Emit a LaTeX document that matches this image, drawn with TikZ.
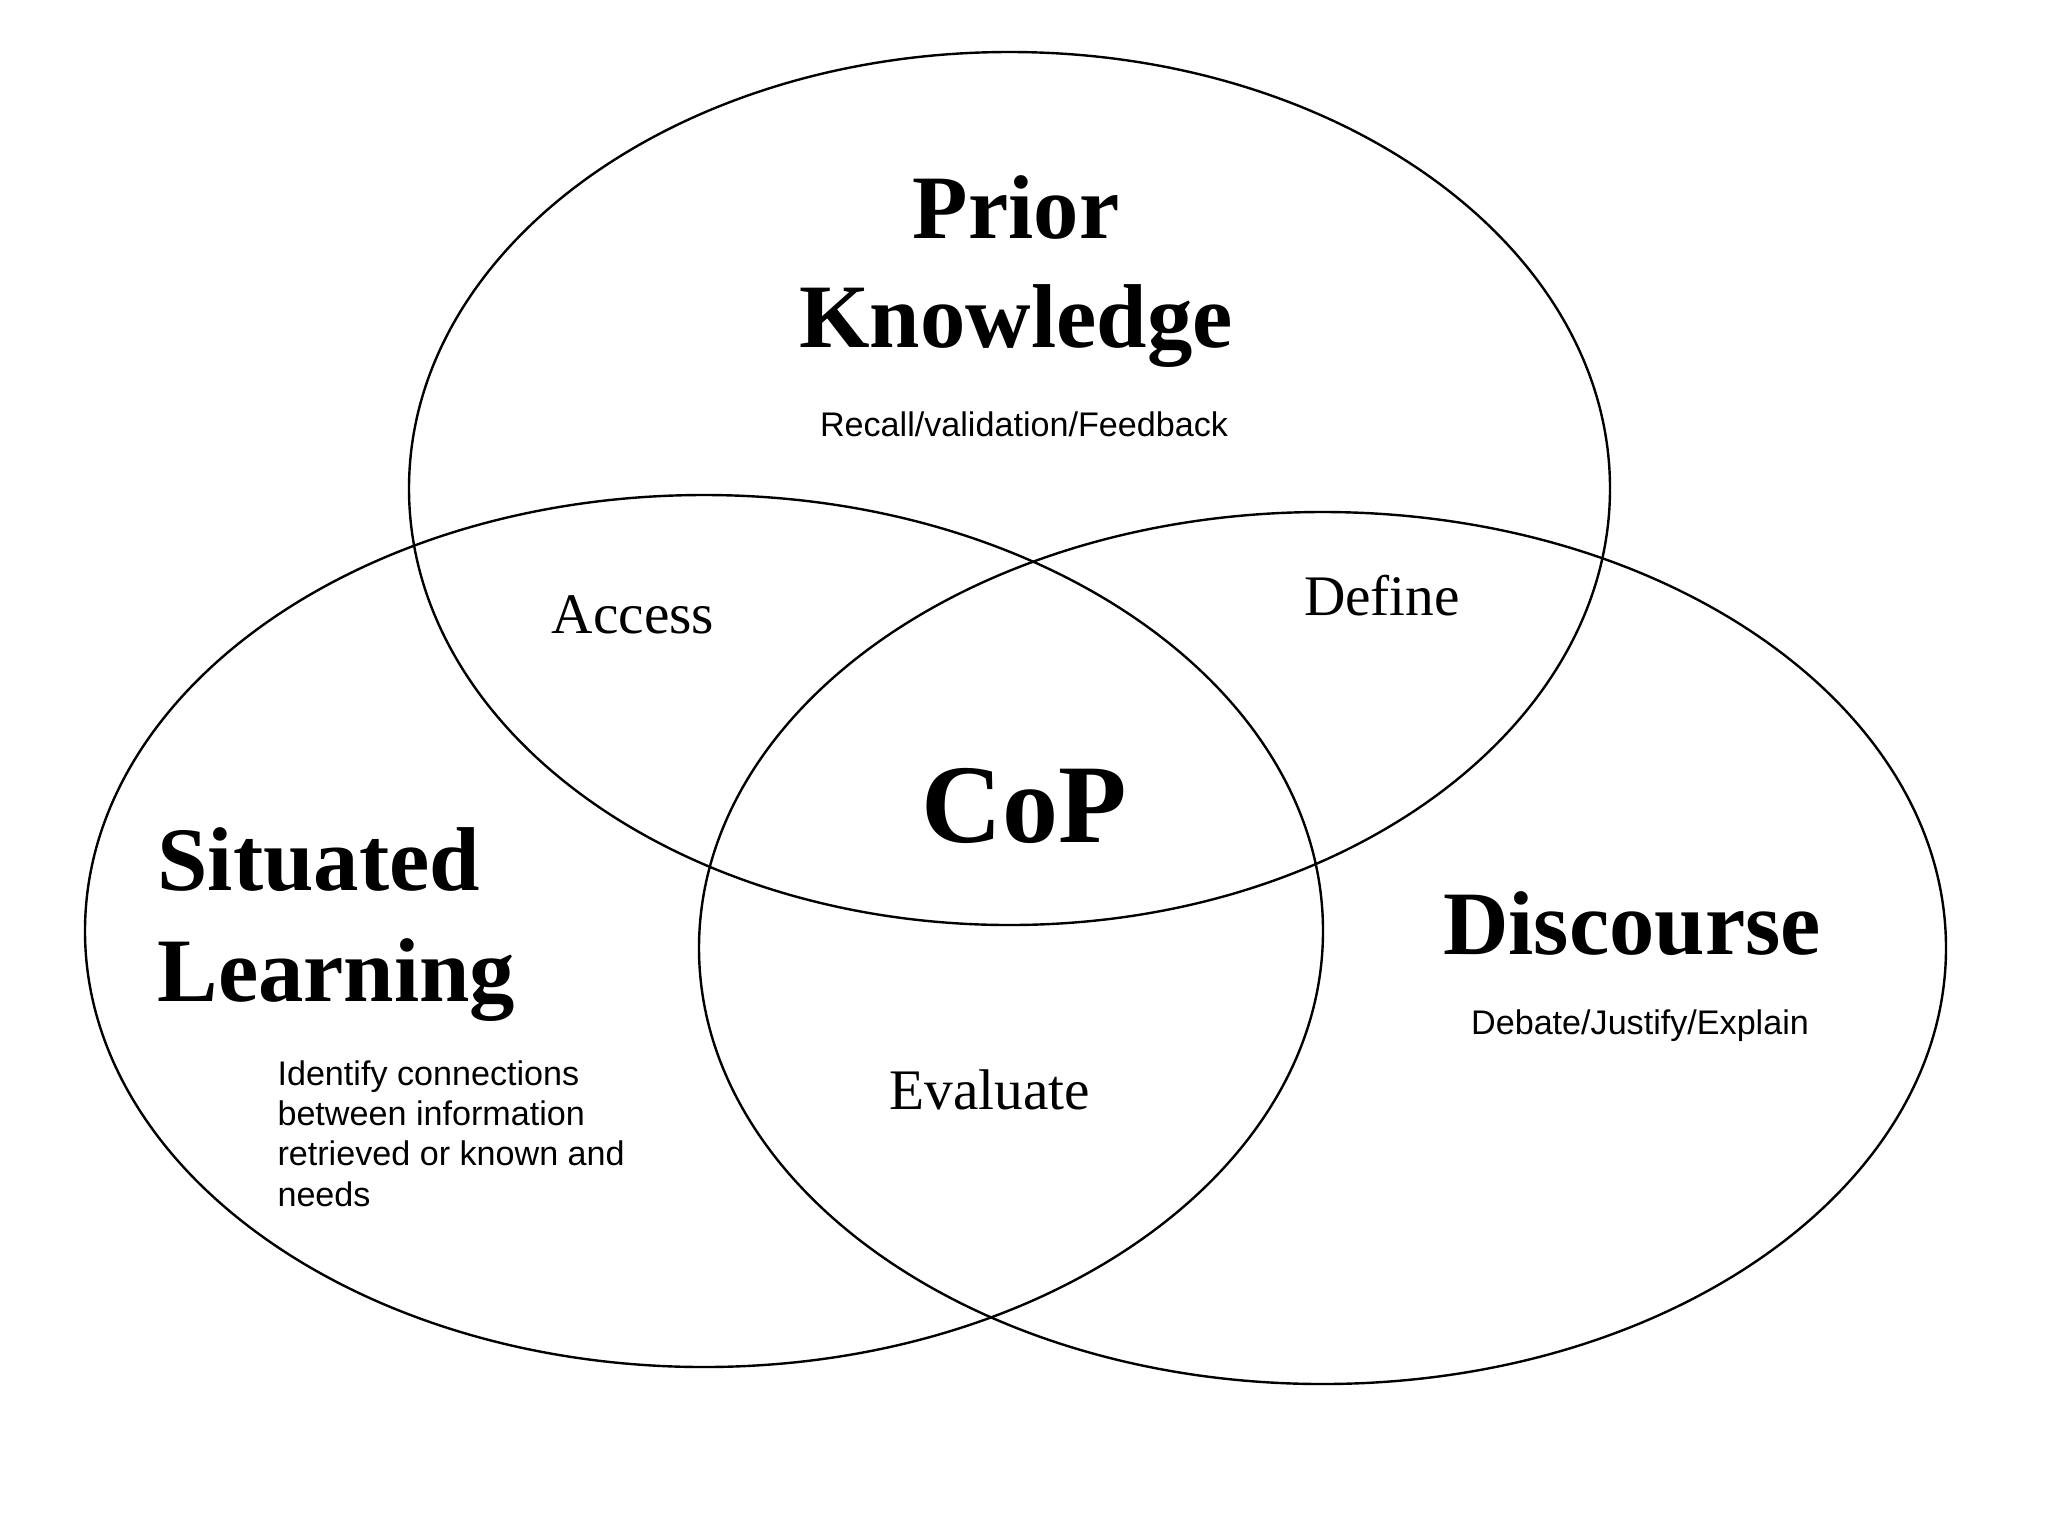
\documentclass[tikz,border=0pt]{standalone}
\usepackage{fontspec}
\setmainfont{Liberation Serif}
\newfontfamily\arialfont{Liberation Sans}
\tikzset{
  venn/.style={draw=black, line width=0.9pt},
  titletext/.style={inner sep=0pt, anchor=base, font=\fontsize{34}{41}\selectfont\bfseries},
  titleleft/.style={titletext, anchor=base west},
  coptext/.style={inner sep=0pt, anchor=base, font=\fontsize{42}{50}\selectfont\bfseries},
  zonetext/.style={inner sep=0pt, anchor=base, font=\fontsize{21.5}{26}\selectfont},
  subtext/.style={inner sep=0pt, anchor=base, font=\arialfont\fontsize{12.8}{15}\selectfont},
  subleft/.style={subtext, anchor=base west}
}
\begin{document}
\begin{tikzpicture}[x=0.375pt, y=-0.375pt]
  \fill[white] (0,0) rectangle (2048,1536);
  \useasboundingbox (0,0) rectangle (2048,1536);
  % circles
  \draw[venn] (1009.5,488.5) ellipse [x radius=600.5, y radius=436.5];
  \draw[venn] (704,931) ellipse [x radius=619, y radius=436];
  \draw[venn] (1322.5,948) ellipse [x radius=623.5, y radius=436];
  % Prior Knowledge
  \node[titletext] (prior1) at (1016,238) {Prior};
  \node[titletext] (prior2) at (1016,347) {Knowledge};
  \node[subtext] (recall) at (1024,436) {Recall/validation/Feedback};
  % Situated Learning
  \node[titleleft] (sit1) at (157,890) {Situated};
  \node[titleleft] (sit2) at (157,1001) {Learning};
  \node[subleft] (id1) at (277,1085) {Identify connections};
  \node[subleft] (id2) at (277,1125) {between information};
  \node[subleft] (id3) at (277,1165) {retrieved or known and};
  \node[subleft] (id4) at (277,1206) {needs};
  % Discourse
  \node[titletext] (disc) at (1632,954) {Discourse};
  \node[subtext] (debate) at (1640,1034) {Debate/Justify/Explain};
  % intersections
  \node[zonetext] (access) at (633,633) {Access};
  \node[zonetext] (define) at (1382,615) {Define};
  \node[zonetext] (evaluate) at (990,1109) {Evaluate};
  \node[coptext] (cop) at (1024,842) {CoP};
\end{tikzpicture}
\end{document}
